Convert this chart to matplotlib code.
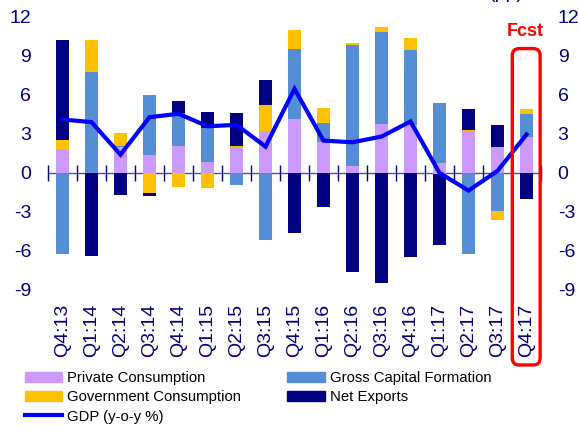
import numpy as np
import matplotlib
matplotlib.use('Agg')
import matplotlib.pyplot as plt
from matplotlib.patches import FancyBboxPatch, Patch
from matplotlib.lines import Line2D

plt.rcParams['font.family'] = ['Liberation Sans', 'DejaVu Sans']
plt.rcParams['axes.unicode_minus'] = False

# quarters and contributions (pp)
quarters = ['Q4:13', 'Q1:14', 'Q2:14', 'Q3:14', 'Q4:14', 'Q1:15', 'Q2:15', 'Q3:15',
            'Q4:15', 'Q1:16', 'Q2:16', 'Q3:16', 'Q4:16', 'Q1:17', 'Q2:17', 'Q3:17', 'Q4:17']
private_cons = [1.85, 0.0, 1.95, 1.4, 2.1, 0.82, 1.97, 3.25,
                4.15, 2.35, 0.51, 3.77, 3.64, 0.77, 3.2, 1.95, 2.74]
gross_cap = [-6.2, 7.74, 0.15, 4.55, 2.5, 2.6, -0.92, -5.15,
             5.33, 1.47, 9.28, 7.05, 5.77, 4.58, -6.23, -2.95, 1.8]
gov_cons = [0.7, 2.5, 0.95, -1.54, -1.05, -1.13, 0.08, 1.93,
            1.52, 1.18, 0.21, 0.38, 0.97, -0.1, 0.1, -0.67, 0.38]
net_exports = [7.65, -6.36, -1.72, -0.26, 0.95, 1.23, 2.55, 1.97,
               -4.64, -2.59, -7.65, -8.49, -6.49, -5.45, 1.57, 1.74, -2.0]
gdp = [4.1, 3.9, 1.4, 4.28, 4.54, 3.58, 3.69, 2.02,
       6.46, 2.48, 2.35, 2.79, 3.95, 0.0, -1.36, 0.15, 2.95]

series = [
    ('Private Consumption', private_cons, '#CC99FF'),
    ('Gross Capital Formation', gross_cap, '#558ED5'),
    ('Government Consumption', gov_cons, '#FFC000'),
    ('Net Exports', net_exports, '#000080'),
]
NAVY = '#000080'

fig = plt.figure(figsize=(5.79, 4.26), dpi=100)
ax = fig.add_axes([48 / 579, 1 - 290 / 426, 493 / 579, 273.3 / 426])

x = np.arange(len(quarters))
pos_base = np.zeros(len(quarters))
neg_base = np.zeros(len(quarters))
for name, vals, col in series:
    v = np.array(vals)
    base = np.where(v >= 0, pos_base, neg_base)
    ax.bar(x, v, width=0.45, bottom=base, color=col, edgecolor='none', zorder=2)
    pos_base += np.where(v >= 0, v, 0)
    neg_base += np.where(v < 0, v, 0)

ax.plot(x, gdp, color='#0000FF', lw=3, zorder=3, solid_joinstyle='miter')

ax.set_xlim(-0.5, len(quarters) - 0.5)
ax.set_ylim(-9, 12)
ax.set_yticks(np.arange(-9, 13, 3))
ax.tick_params(axis='y', length=0, labelsize=14, labelcolor=NAVY, pad=13,
               labelleft=True, labelright=True)
ax.tick_params(axis='y', which='major', pad=12)
ax.set_xticks(x)
ax.set_xticklabels(quarters, rotation=90, fontsize=14, color=NAVY)
ax.tick_params(axis='x', length=0, pad=10)
for s in ax.spines.values():
    s.set_visible(False)

# zero line with category ticks
zero = ax.secondary_xaxis(9 / 21)
zero.spines['bottom'].set_color(NAVY)
zero.spines['bottom'].set_linewidth(1.0)
zero.spines['bottom'].set_alpha(0.7)
zero.set_xticks(np.arange(-0.5, len(quarters), 1.0))
zero.tick_params(axis='x', direction='inout', length=12, width=1, color=NAVY,
                 labelbottom=False)

# forecast box
fig.canvas.draw()
p0 = ax.transData.transform((15.51, 9.55))
p1 = ax.transData.transform((16.47, 0))
inv = fig.transFigure.inverted()
(fx0, fy1) = inv.transform(p0)
fx1 = inv.transform(p1)[0]
fy0 = 1 - 365 / 426
box = FancyBboxPatch((fx0, fy0), fx1 - fx0, fy1 - fy0,
                     boxstyle='round,pad=0,rounding_size=0.012',
                     mutation_aspect=579 / 426,
                     transform=fig.transFigure, fill=False, ec='#FF0000', lw=2.4,
                     zorder=5)
fig.add_artist(box)
ax.text(15.95, 10.85, 'Fcst', color='#FF0000', fontsize=13, fontweight='bold',
        ha='center', va='center')

fig.text(0.875, 1 + 2.5 / 426, '(pp)', color=NAVY, fontsize=14, ha='center',
         va='baseline')

handles = [
    Patch(color=series[0][2], label=series[0][0]),
    Patch(color=series[2][2], label=series[2][0]),
    Line2D([], [], color='#0000FF', lw=3, label='GDP (y-o-y %)'),
    Patch(color=series[1][2], label=series[1][0]),
    Patch(color=series[3][2], label=series[3][0]),
]
fig.legend(handles=handles, ncol=2, loc='upper left', bbox_to_anchor=(25 / 579, 1 - 371 / 426),
           frameon=False, fontsize=10.7, borderpad=0, borderaxespad=0,
           handlelength=2.5, handleheight=0.7, handletextpad=0.35,
           columnspacing=3.1, labelspacing=0.36)

fig.savefig('out.png', dpi=100)
